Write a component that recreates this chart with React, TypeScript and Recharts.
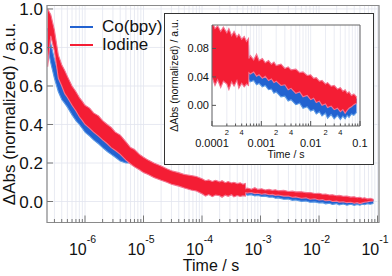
import { Area, CartesianGrid, ComposedChart, ReferenceArea, XAxis, YAxis } from "recharts";

const FONT = '"Liberation Sans", Arial, Helvetica, sans-serif';

// sample times (s)
const TIMES = [
  2.3e-7, 2.6e-7, 3e-7, 3.5e-7, 4e-7, 4.5e-7, 5e-7, 6e-7, 7e-7, 8e-7, 9e-7,
  1e-6, 1.2e-6, 1.4e-6, 1.7e-6, 2e-6, 2.4e-6, 2.8e-6, 3.3e-6, 4e-6, 5e-6, 6e-6, 7e-6, 8.5e-6,
  1e-5, 1.2e-5, 1.5e-5, 2e-5, 2.5e-5, 3e-5, 4e-5, 5e-5, 6.5e-5, 8e-5,
  1e-4, 1.15e-4, 1.3e-4, 1.5e-4, 1.7e-4, 2e-4, 2.2e-4, 2.5e-4, 2.8e-4, 3.2e-4, 3.5e-4, 4e-4, 4.5e-4, 5e-4, 5.5e-4,
  5.6e-4, 6e-4, 7e-4, 8e-4, 9e-4, 1.05e-3, 1.2e-3, 1.4e-3, 1.6e-3, 1.8e-3,
  2e-3, 2.5e-3, 3e-3, 3.5e-3, 4e-3, 5e-3, 6e-3, 7e-3, 8.5e-3,
  1e-2, 1.15e-2, 1.3e-2, 1.5e-2, 1.7e-2, 2e-2, 2.2e-2, 2.6e-2, 3e-2, 3.5e-2,
  4e-2, 4.5e-2, 5e-2, 5.5e-2, 6e-2, 6.7e-2, 7.5e-2, 8.5e-2,
];

// Iodine: lower / upper edge of the noisy trace
const IODINE_LOW = [
  0.7, 0.86, 0.78, 0.64, 0.6, 0.56, 0.54, 0.5, 0.47, 0.44, 0.42,
  0.4, 0.38, 0.36, 0.34, 0.32, 0.3, 0.28, 0.265, 0.245, 0.215, 0.195, 0.18, 0.165,
  0.15, 0.14, 0.125, 0.11, 0.1, 0.09, 0.08, 0.07, 0.06, 0.055,
  0.04, 0.028, 0.036, 0.025, 0.034, 0.03, 0.022, 0.033, 0.027, 0.035, 0.024, 0.031, 0.026, 0.03, 0.028,
  0.046, 0.044, 0.047, 0.041, 0.043, 0.038, 0.041, 0.035, 0.037, 0.032,
  0.034, 0.028, 0.029, 0.022, 0.024, 0.017, 0.019, 0.012, 0.014,
  0.008, 0.01, 0.004, 0.006, 0.0, 0.002, -0.003, -0.001, -0.006, -0.004,
  -0.009, -0.006, -0.011, -0.007, -0.004, -0.002, 0.001, 0.003,
];
const IODINE_HIGH = [
  1.0, 0.97, 0.89, 0.76, 0.71, 0.68, 0.65, 0.6, 0.57, 0.54, 0.52,
  0.5, 0.485, 0.46, 0.445, 0.42, 0.4, 0.385, 0.36, 0.345, 0.31, 0.28, 0.27, 0.245,
  0.23, 0.215, 0.2, 0.185, 0.17, 0.16, 0.15, 0.14, 0.135, 0.13,
  0.118, 0.108, 0.112, 0.104, 0.11, 0.102, 0.108, 0.098, 0.104, 0.096, 0.1, 0.093, 0.097, 0.09, 0.094,
  0.066, 0.07, 0.064, 0.072, 0.063, 0.066, 0.06, 0.063, 0.058, 0.061,
  0.056, 0.058, 0.052, 0.054, 0.05, 0.051, 0.046, 0.047, 0.042,
  0.043, 0.038, 0.039, 0.034, 0.035, 0.03, 0.032, 0.027, 0.028, 0.023,
  0.025, 0.02, 0.022, 0.017, 0.019, 0.014, 0.016, 0.012,
];

// Co(bpy): lower / upper edge
const COBPY_LOW = [
  0.8, 0.72, 0.64, 0.57, 0.53, 0.51, 0.49, 0.45, 0.42, 0.4, 0.38,
  0.36, 0.34, 0.32, 0.3, 0.28, 0.26, 0.245, 0.23, 0.21, 0.2, 0.2, 0.185, 0.17,
  0.155, 0.145, 0.13, 0.115, 0.105, 0.095, 0.085, 0.075, 0.065, 0.06,
  0.042, 0.038, 0.04, 0.036, 0.038, 0.035, 0.034, 0.036, 0.033, 0.036, 0.032, 0.034, 0.031, 0.033, 0.031,
  0.036, 0.033, 0.035, 0.029, 0.031, 0.026, 0.028, 0.022, 0.023, 0.017,
  0.019, 0.012, 0.013, 0.006, 0.008, 0.001, 0.003, -0.004, -0.002,
  -0.008, -0.006, -0.012, -0.009, -0.015, -0.011, -0.018, -0.013, -0.019, -0.014,
  -0.02, -0.015, -0.019, -0.014, -0.017, -0.012, -0.014, -0.01,
];
const COBPY_HIGH = [
  0.9, 0.82, 0.74, 0.67, 0.63, 0.61, 0.58, 0.54, 0.51, 0.48, 0.46,
  0.44, 0.42, 0.4, 0.37, 0.35, 0.33, 0.31, 0.29, 0.27, 0.25, 0.235, 0.22, 0.21,
  0.195, 0.185, 0.17, 0.16, 0.15, 0.14, 0.13, 0.12, 0.115, 0.11,
  0.1, 0.095, 0.098, 0.092, 0.096, 0.09, 0.092, 0.088, 0.09, 0.086, 0.088, 0.084, 0.086, 0.082, 0.084,
  0.056, 0.058, 0.052, 0.055, 0.05, 0.052, 0.047, 0.049, 0.044, 0.046,
  0.041, 0.042, 0.036, 0.037, 0.032, 0.033, 0.028, 0.029, 0.024,
  0.025, 0.02, 0.021, 0.017, 0.018, 0.014, 0.015, 0.012, 0.013, 0.01,
  0.011, 0.008, 0.01, 0.007, 0.009, 0.008, 0.01, 0.009,
];

const DECADES = [-7, -6, -5, -4, -3, -2, -1];
const MANTISSAS = [1, 2, 3, 4, 5, 6, 7, 8, 9];
const MAIN_Y_TICKS = [0, 0.2, 0.4, 0.6, 0.8, 1.0];
const INSET_Y_TICKS = [0, 0.04, 0.08];
const INSET_X_LABELS: Record<string, string> = { "-4": "0.0001", "-3": "0.001", "-2": "0.01", "-1": "0.1" };
const INSET_MINOR_LABELS = [2, 4];

const MAIN_X_DOMAIN = [2.24e-7, 0.106];
const MAIN_Y_DOMAIN = [-0.109, 1.018];
const INSET_X_DOMAIN = [1e-4, 0.1];
const INSET_Y_DOMAIN = [-0.029, 0.113];

const SERIES = [
  { key: "cobpy", name: "Co(bpy)", fill: "#2262d0", stroke: "#5c9ae4" },
  { key: "iodine", name: "Iodine", fill: "#f41d34", stroke: "#f4738f" },
];

const data = TIMES.map((t, i) => ({
  t,
  iodine: [IODINE_LOW[i], IODINE_HIGH[i]],
  cobpy: [COBPY_LOW[i], COBPY_HIGH[i]],
}));
const insetData = data.filter((d) => d.t >= 1e-4);

const logTicks = (lo: number, hi: number) =>
  DECADES.flatMap((e) => MANTISSAS.map((m) => Number((m * Math.pow(10, e)).toPrecision(3)))).filter(
    (v) => v >= lo && v <= hi * 1.0001
  );

const splitLog = (v: number) => {
  const exp = Math.floor(Math.log10(v) + 1e-9);
  return { exp, mant: Math.round(v / Math.pow(10, exp)) };
};

const MAIN_X_TICKS = logTicks(MAIN_X_DOMAIN[0], MAIN_X_DOMAIN[1]);
const INSET_X_TICKS = logTicks(INSET_X_DOMAIN[0], INSET_X_DOMAIN[1]);

function MainTimeTick({ x, y, payload }: any) {
  const { exp, mant } = splitLog(payload.value);
  const major = mant === 1;
  return (
    <g>
      <line x1={x} x2={x} y1={y} y2={y - (major ? 7 : 3.5)} stroke="#777" />
      {major && (
        <text x={x - 2.5} y={y + 32} textAnchor="middle" fontSize={16} fontFamily={FONT} fill="#111">
          10
          <tspan dy={-12} fontSize={10.5}>
            {exp}
          </tspan>
        </text>
      )}
    </g>
  );
}

function MainValueTick({ x, y, payload }: any) {
  return (
    <g>
      <line x1={x} x2={x + 6} y1={y} y2={y} stroke="#777" />
      <text x={x - 4} y={y} dy="0.36em" textAnchor="end" fontSize={17} fontFamily={FONT} fill="#111">
        {payload.value.toFixed(1)}
      </text>
    </g>
  );
}

function InsetTimeTick({ x, y, payload }: any) {
  const { exp, mant } = splitLog(payload.value);
  const major = mant === 1;
  return (
    <g>
      <line x1={x} x2={x} y1={y} y2={y - (major ? 5 : 2.5)} stroke="#555" />
      {major && (
        <text x={x} y={y + 17} dy="0.36em" textAnchor="middle" fontSize={11} fontFamily={FONT} fill="#111">
          {INSET_X_LABELS[String(exp)]}
        </text>
      )}
      {INSET_MINOR_LABELS.includes(mant) && (
        <text x={x} y={y + 6.5} dy="0.36em" textAnchor="middle" fontSize={7.5} fontFamily={FONT} fill="#111">
          {mant}
        </text>
      )}
    </g>
  );
}

function InsetValueTick({ x, y, payload }: any) {
  return (
    <g>
      <line x1={x} x2={x + 4} y1={y} y2={y} stroke="#555" />
      <text x={x - 3} y={y} dy="0.36em" textAnchor="end" fontSize={11} fontFamily={FONT} fill="#111">
        {payload.value.toFixed(2)}
      </text>
    </g>
  );
}

const verticalTitle = (text: string, dx: number, size: number) => (props: any) => {
  const vb = props.viewBox;
  const cx = vb.x + dx;
  const cy = vb.y + vb.height / 2;
  return (
    <text
      x={cx}
      y={cy}
      transform={`rotate(-90 ${cx} ${cy})`}
      textAnchor="middle"
      dominantBaseline="central"
      fontSize={size}
      fontFamily={FONT}
      fill="#111"
    >
      {text}
    </text>
  );
};

const bottomTitle = (text: string, dx: number, dy: number, size: number) => (props: any) => {
  const vb = props.viewBox;
  return (
    <text x={vb.x + vb.width / 2 + dx} y={vb.y + dy} textAnchor="middle" fontSize={size} fontFamily={FONT} fill="#111">
      {text}
    </text>
  );
};

function Bands() {
  return SERIES.map((s) => (
    <Area
      key={s.key}
      dataKey={s.key}
      name={s.name}
      type="linear"
      fill={s.fill}
      fillOpacity={1}
      stroke={s.stroke}
      strokeWidth={1.1}
      dot={false}
      activeDot={false}
      isAnimationActive={false}
    />
  ));
}

export default function App() {
  return (
    <div style={{ position: "absolute", left: 0, top: 0, width: 392, height: 276, background: "#fff", fontFamily: FONT }}>
      <ComposedChart width={392} height={276} data={data} margin={{ top: 5.5, right: 13, bottom: 0, left: 0 }}>
        <CartesianGrid stroke="#e2e5ef" strokeWidth={0.8} />
        <XAxis
          dataKey="t"
          type="number"
          scale="log"
          domain={MAIN_X_DOMAIN}
          allowDataOverflow
          ticks={MAIN_X_TICKS}
          interval={0}
          height={53.5}
          tickSize={0}
          tickMargin={0}
          axisLine={false}
          tickLine={false}
          tick={<MainTimeTick />}
          label={bottomTitle("Time / s", -2, 48.5, 16)}
        />
        <YAxis
          type="number"
          domain={MAIN_Y_DOMAIN}
          allowDataOverflow
          ticks={MAIN_Y_TICKS}
          interval={0}
          width={47}
          tickSize={0}
          tickMargin={0}
          axisLine={false}
          tickLine={false}
          tick={<MainValueTick />}
          label={verticalTitle("ΔAbs (normalized) / a.u.", 9.5, 17)}
        />
        {Bands()}
        <ReferenceArea
          x1={MAIN_X_DOMAIN[0]}
          x2={MAIN_X_DOMAIN[1]}
          y1={MAIN_Y_DOMAIN[0]}
          y2={MAIN_Y_DOMAIN[1]}
          fill="none"
          stroke="#8a8a8a"
          strokeWidth={1.2}
          ifOverflow="visible"
        />
      </ComposedChart>

      <div style={{ position: "absolute", left: 70, top: 18 }}>
        {SERIES.map((s) => (
          <div key={s.key} style={{ display: "flex", alignItems: "center", height: 18 }}>
            <div style={{ width: 23, height: 2, background: s.fill, marginRight: 9 }} />
            <span style={{ fontSize: 17, lineHeight: "18px", color: "#111" }}>{s.name}</span>
          </div>
        ))}
      </div>

      <div
        style={{
          position: "absolute",
          left: 164,
          top: 13,
          width: 210,
          height: 152,
          boxSizing: "border-box",
          border: "1px solid #333",
          background: "#fff",
        }}
      >
        <ComposedChart width={208} height={150} data={insetData} margin={{ top: 11, right: 13, bottom: 0, left: 0 }}>
          <CartesianGrid stroke="#e4e7f0" strokeWidth={0.8} horizontal={false} />
          <XAxis
            dataKey="t"
            type="number"
            scale="log"
            domain={INSET_X_DOMAIN}
            allowDataOverflow
            ticks={INSET_X_TICKS}
            interval={0}
            height={38}
            tickSize={0}
            tickMargin={0}
            axisLine={false}
            tickLine={false}
            tick={<InsetTimeTick />}
            label={bottomTitle("Time / s", 0, 32, 10.5)}
          />
          <YAxis
            type="number"
            domain={INSET_Y_DOMAIN}
            allowDataOverflow
            ticks={INSET_Y_TICKS}
            interval={0}
            width={47}
            tickSize={0}
            tickMargin={0}
            axisLine={false}
            tickLine={false}
            tick={<InsetValueTick />}
            label={verticalTitle("ΔAbs (normalized) / a.u.", 9, 10.5)}
          />
          {Bands()}
          <ReferenceArea
            x1={INSET_X_DOMAIN[0]}
            x2={INSET_X_DOMAIN[1]}
            y1={INSET_Y_DOMAIN[0]}
            y2={INSET_Y_DOMAIN[1]}
            fill="none"
            stroke="#666"
            strokeWidth={1}
            ifOverflow="visible"
          />
        </ComposedChart>
      </div>
    </div>
  );
}
